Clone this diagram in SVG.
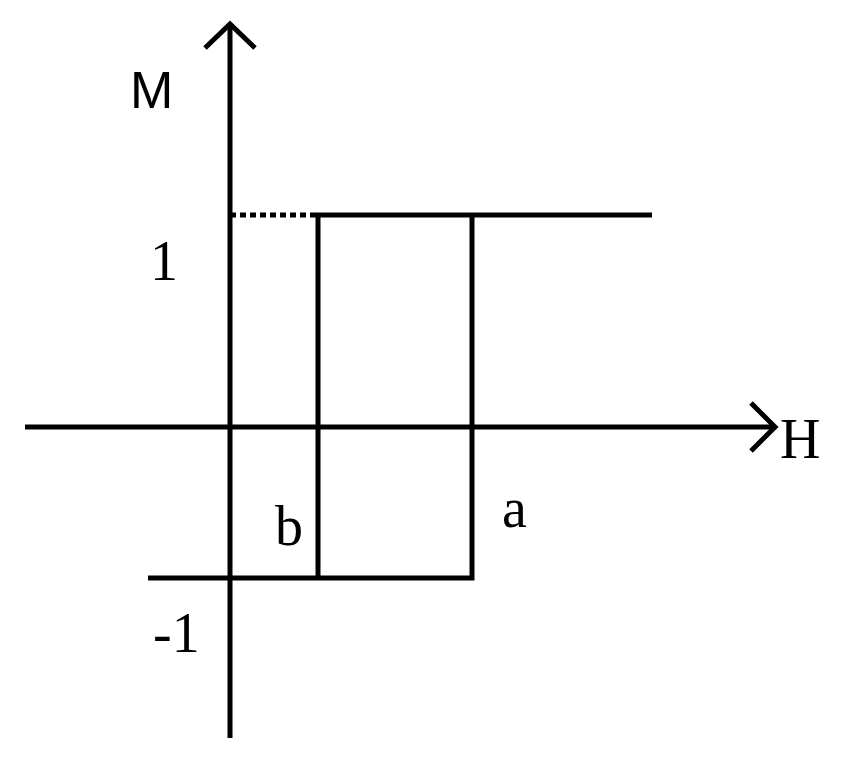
<svg xmlns="http://www.w3.org/2000/svg" width="856" height="760" viewBox="0 0 856 760">
<style>
.l{stroke:#000;stroke-width:5;fill:none}
.s{font-family:"Liberation Serif",serif;font-size:56px;fill:#000}
</style>
<rect width="856" height="760" fill="#fff"/>
<g id="axes">
<line class="l" x1="230" y1="24" x2="230" y2="738"/>
<polyline class="l" points="205,48 230,24 255,48"/>
<line class="l" x1="25" y1="427" x2="775" y2="427"/>
<polyline class="l" points="751,403 775,427 751,451"/>
</g>
<g id="loop">
<line class="l" x1="230" y1="215" x2="318" y2="215" stroke-dasharray="6,4"/>
<polyline class="l" points="652,215 318,215 318,578"/>
<polyline class="l" points="148,578 472,578 472,215"/>
</g>
<g id="labels">
<text x="130" y="108" style="font-family:'Liberation Sans',sans-serif;font-size:52px">M</text>
<text class="s" x="150" y="280">1</text>
<text class="s" x="780" y="458">H</text>
<text class="s" x="275" y="545">b</text>
<text class="s" x="502" y="527">a</text>
<text class="s" x="153" y="652">-1</text>
</g>
</svg>
